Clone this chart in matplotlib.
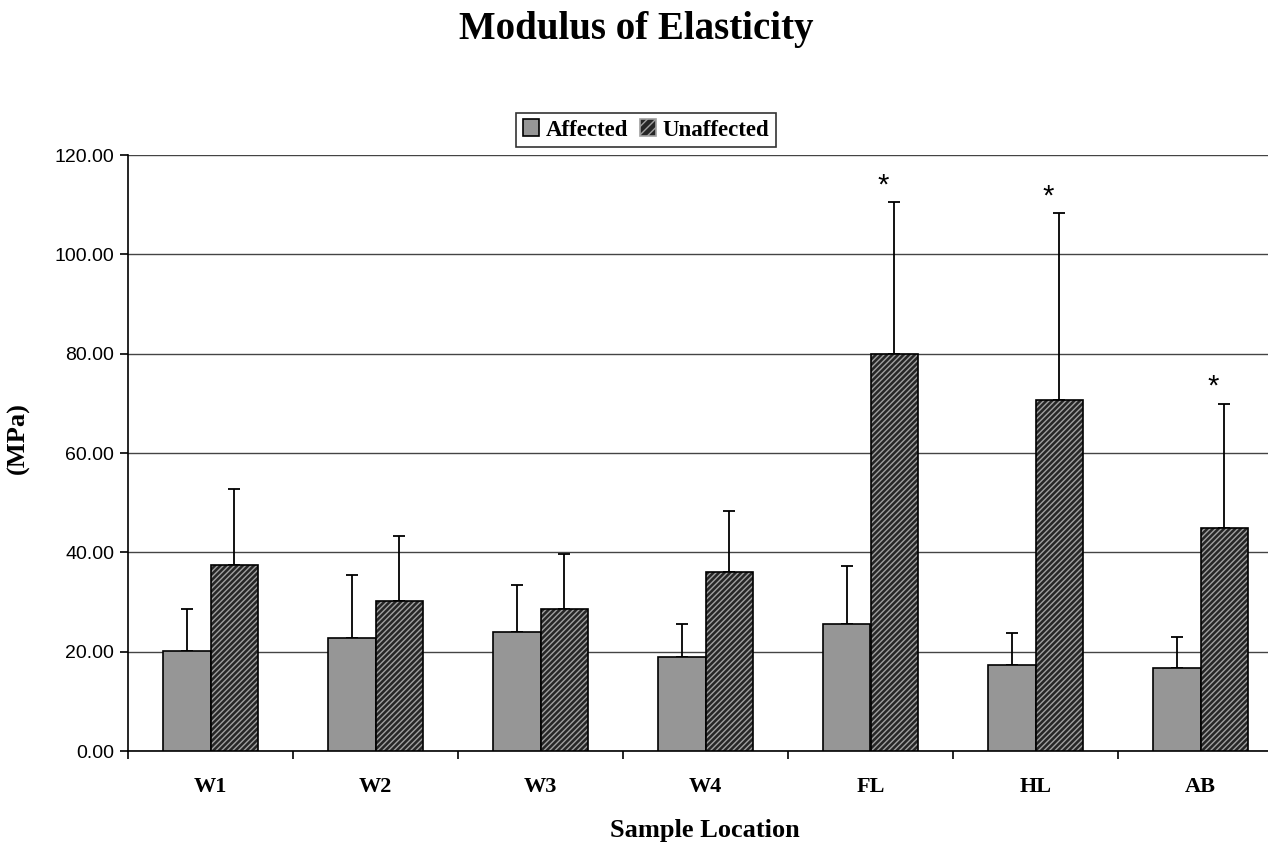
import matplotlib
matplotlib.use("Agg")
import matplotlib.pyplot as plt
import numpy as np
from matplotlib.patches import Patch

categories = ["W1", "W2", "W3", "W4", "FL", "HL", "AB"]
affected = [20.2, 22.7, 24.0, 18.9, 25.6, 17.3, 16.8]
affected_err = [8.3, 12.7, 9.5, 6.7, 11.6, 6.5, 6.2]
unaffected = [37.4, 30.2, 28.5, 36.0, 80.0, 70.7, 45.0]
unaffected_err = [15.3, 13.1, 11.2, 12.3, 30.5, 37.6, 24.9]
significant = [False, False, False, False, True, True, True]

serif = ["Liberation Serif", "DejaVu Serif"]
sans = ["Liberation Sans", "DejaVu Sans"]

fig = plt.figure(figsize=(12.68, 8.49), dpi=100)
ax = fig.add_axes([128/1268, 98/849, 1155/1268, 596/849])

x = np.arange(len(categories))
w = 0.288

ax.set_ylim(0, 120)
ax.set_xlim(-0.5, len(categories) - 0.5)
ax.set_yticks(np.arange(0, 121, 20))
ax.yaxis.grid(True, color="#444444", linewidth=1.0)
ax.set_axisbelow(True)

ax.bar(x - w/2, affected, w, color="#969696", edgecolor="black", linewidth=1.2, zorder=3)
ax.bar(x + w/2, unaffected, w, color="#262626", edgecolor="#a0a0a0", hatch="//////", linewidth=0, zorder=3)
ax.bar(x + w/2, unaffected, w, fill=False, edgecolor="black", linewidth=1.2, zorder=4)

ax.errorbar(x - w/2, affected, yerr=[np.zeros(len(x)), affected_err], fmt="none",
            ecolor="black", elinewidth=1.3, capsize=4.5, capthick=1.3, zorder=2)
ax.errorbar(x + w/2, unaffected, yerr=[np.zeros(len(x)), unaffected_err], fmt="none",
            ecolor="black", elinewidth=1.3, capsize=4.5, capthick=1.3, zorder=2)

for xi, v, e, s in zip(x, unaffected, unaffected_err, significant):
    if s:
        ax.text(xi + w/2 - 0.07, v + e + 0.6, "*", ha="center", va="bottom",
                fontsize=21, family=sans)

for side in ["top", "right"]:
    ax.spines[side].set_visible(False)
ax.spines["left"].set_linewidth(1.2)
ax.spines["bottom"].set_linewidth(1.2)

ax.set_yticklabels([f"{v:.2f}" for v in np.arange(0, 121, 20)], family=sans, fontsize=14)
ax.tick_params(axis="y", direction="out", length=6, width=1.2, pad=4)

ax.set_xticks(x)
ax.set_xticklabels(categories, family=serif, fontsize=16, fontweight="bold")
ax.tick_params(axis="x", which="major", length=0, pad=19)
ax.set_xticks(np.arange(-0.5, len(categories) - 0.4, 1), minor=True)
ax.tick_params(axis="x", which="minor", direction="out", length=6, width=1.2)

fig.text(705/1268, 1 - 831/849, "Sample Location", ha="center", va="center",
         family=serif, fontsize=19, fontweight="bold")
fig.text(18/1268, 1 - 438/849, "(MPa)", ha="center", va="center", rotation=90,
         family=serif, fontsize=19, fontweight="bold")

fig.text(636/1268, 1 - 30/849, "Modulus of Elasticity", ha="center", va="center",
         family=serif, fontsize=28, fontweight="bold")

handles = [Patch(facecolor="#969696", edgecolor="black", linewidth=1.2, label="Affected"),
           Patch(facecolor="#262626", edgecolor="#a0a0a0", hatch="////", linewidth=1.2, label="Unaffected")]
leg = fig.legend(handles=handles, loc="center", bbox_to_anchor=(646/1268, 1 - 130/849),
                 ncol=2, frameon=True, fancybox=False, edgecolor="black",
                 prop={"family": serif, "size": 16.5, "weight": "bold"},
                 handlelength=0.7, handleheight=0.7, handletextpad=0.3, columnspacing=0.5,
                 borderpad=0.3)
leg.get_frame().set_linewidth(1.2)

fig.savefig("out.png", dpi=100)
